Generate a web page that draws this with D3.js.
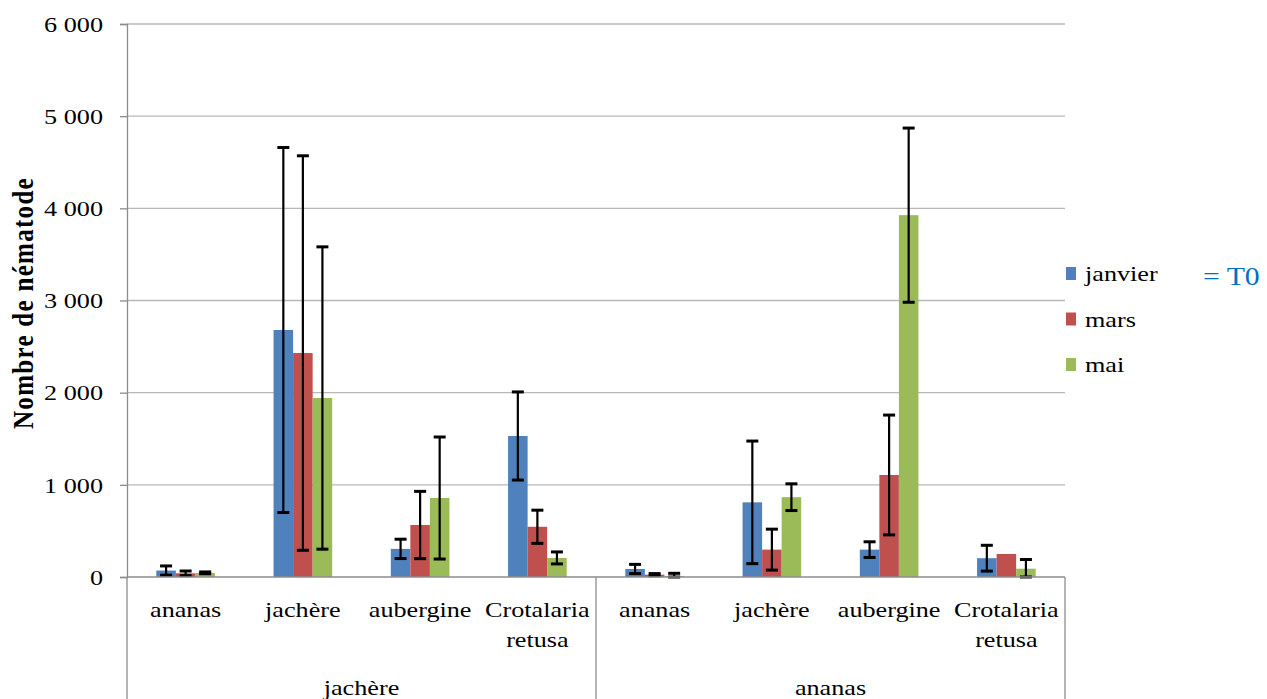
<!DOCTYPE html>
<html><head><meta charset="utf-8">
<script src="https://cdn.jsdelivr.net/npm/d3@7"></script>
<style>body{margin:0;background:#fff}svg{display:block}</style>
</head><body><svg id="c" width="1267" height="699"></svg>
<script>
const groups = ["jachère", "ananas"];
const crops = ["ananas", "jachère", "aubergine", "Crotalaria retusa"];
const series = ["janvier", "mars", "mai"];
const colors = ["#4F81BD", "#C0504D", "#9BBB59"];
// values per series, in order: jachère/(ananas, jachère, aubergine, Crotalaria), ananas/(...)
const janvier = [70, 2680, 305, 1530, 87, 810, 297, 204];
const mars    = [40, 2430, 564, 545, 25, 297, 1107, 250];
const mai     = [45, 1942, 857, 207, 10, 866, 3926, 90];
const errJanvier = [50, 1980, 105, 478, 50, 665, 85, 140];
const errMars    = [25, 2140, 365, 180, 12, 222, 650, 0];
const errMai     = [10, 1640, 662, 65, 30, 145, 945, 100];
const yTicks = [0, 1000, 2000, 3000, 4000, 5000, 6000];

const FONT = "Liberation Serif";
const SX = 1.19; // horizontal stretch of the reference text
const vals = [janvier, mars, mai];
const errs = [errJanvier, errMars, errMai];
const svg = d3.select("#c");
const L = 127, R = 1065, T = 24, B = 577;
const y = d3.scaleLinear().domain([0, 6000]).range([B, T]);
const cats = [];
groups.forEach(g => crops.forEach(c => cats.push(g + "|" + c)));
const x0 = d3.scaleBand().domain(cats).range([L, R]).padding(0);
const x1 = d3.scaleBand().domain(series).range([x0.bandwidth() * 0.25, x0.bandwidth() * 0.75]).padding(0);
const fmt = v => d3.format(",")(v).replace(",", " ");

function hText(x, yy, str, size, anchor, fill) {
  return svg.append("text")
    .attr("transform", `translate(${x},${yy}) scale(${SX},1)`)
    .attr("text-anchor", anchor || "start")
    .attr("font-family", FONT).attr("font-size", size)
    .attr("fill", fill || "#000").text(str);
}

// gridlines
svg.append("g").selectAll("line").data(yTicks.filter(d => d > 0)).join("line")
  .attr("x1", L).attr("x2", R).attr("y1", d => y(d)).attr("y2", d => y(d))
  .attr("stroke", "#B8B8B8").attr("stroke-width", 1.3);

// y axis
const ya = svg.append("g").attr("transform", `translate(${L},0)`)
  .call(d3.axisLeft(y).tickValues(yTicks).tickFormat(fmt).tickSize(7).tickPadding(14));
ya.select(".domain").attr("stroke", "#8C8C8C").attr("stroke-width", 1.3);
ya.selectAll(".tick line").attr("stroke", "#8C8C8C").attr("stroke-width", 1.3);
ya.selectAll(".tick text").attr("font-size", 22).attr("fill", "#000")
  .attr("font-family", FONT).attr("transform", `scale(${SX},1)`)
  .attr("x", -24 / SX).attr("dy", "0.33em");

// y title
svg.append("text").attr("transform", `translate(33,303) scale(${SX},1) rotate(-90)`)
  .attr("text-anchor", "middle").attr("font-size", 25).attr("font-weight", "bold")
  .attr("font-family", FONT).attr("letter-spacing", 1.3)
  .text("Nombre de nématode");

// bars
series.forEach((s, si) => {
  svg.append("g").selectAll("rect").data(cats).join("rect")
    .attr("x", d => x0(d) + x1(s))
    .attr("width", x1.bandwidth())
    .attr("y", (d, i) => y(vals[si][i]))
    .attr("height", (d, i) => B - y(vals[si][i]))
    .attr("fill", colors[si]);
});
// error bars
series.forEach((s, si) => {
  const g = svg.append("g").attr("stroke", "#000").attr("stroke-width", 2.2);
  cats.forEach((d, i) => {
    const e = errs[si][i];
    if (!e) return;
    const cx = x0(d) + x1(s) + x1.bandwidth() / 2;
    const v = vals[si][i];
    const y1 = y(v + e), y2 = y(Math.max(0, v - e));
    g.append("line").attr("x1", cx).attr("x2", cx).attr("y1", y1).attr("y2", y2);
    g.append("line").attr("x1", cx - 6).attr("x2", cx + 6).attr("y1", y1).attr("y2", y1).attr("stroke-width", 3);
    g.append("line").attr("x1", cx - 6).attr("x2", cx + 6).attr("y1", y2).attr("y2", y2).attr("stroke-width", 3);
  });
});

// x axis base + group separators
svg.append("line").attr("x1", L).attr("x2", R).attr("y1", B).attr("y2", B)
  .attr("stroke", "#8C8C8C").attr("stroke-width", 1.3);
[0, 4, 8].forEach(k => {
  const xx = k < 8 ? x0(cats[k]) : R;
  svg.append("line").attr("x1", xx).attr("x2", xx).attr("y1", B).attr("y2", 699)
    .attr("stroke", "#8C8C8C").attr("stroke-width", 1.3);
});

// category labels
cats.forEach((d, i) => {
  const c = d.split("|")[1];
  const words = c === "Crotalaria retusa" ? ["Crotalaria", "retusa"] : [c];
  const cx = x0(d) + x0.bandwidth() / 2;
  words.forEach((w, wi) => hText(cx, 617 + wi * 30, w, 22, "middle"));
});
groups.forEach((g, gi) => {
  const a = x0(cats[gi * 4]), b = gi === 1 ? R : x0(cats[4]);
  hText((a + b) / 2, 695, g, 22, "middle");
});

// legend
series.forEach((s, si) => {
  const ly = 281 + si * 45.5;
  svg.append("rect").attr("x", 1066).attr("y", ly - 14).attr("width", 10).attr("height", 13).attr("fill", colors[si]);
  hText(1085, ly, s, 22);
});
hText(1203, 285, "= T0", 25, "start", "#0070C0");
</script></body></html>
